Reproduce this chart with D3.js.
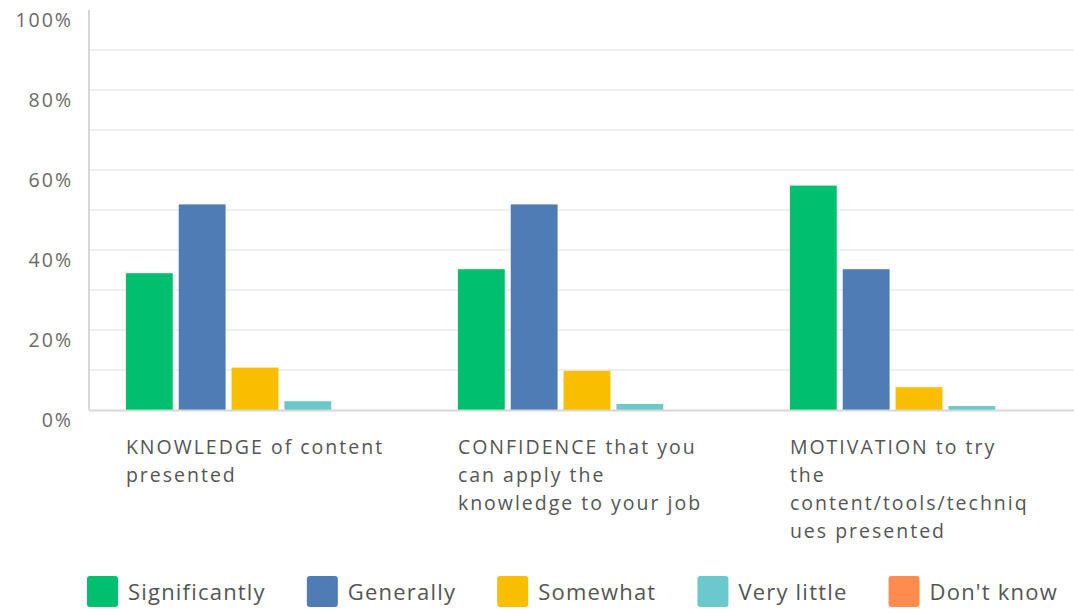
<!DOCTYPE html>
<html>
<head>
<meta charset="utf-8">
<script src="https://cdn.jsdelivr.net/npm/d3@7.9.0/dist/d3.min.js"></script>
<style>
  body { margin: 0; background: #fff; }
  text { font-family: "Open Sans", "Noto Sans", sans-serif; }
</style>
</head>
<body>
<svg id="chart" width="1074" height="609"></svg>
<script>
// categories (wrapped lines as shown)
const categories = ["knowledge", "confidence", "motivation"];
const categoryLines = [
    ["KNOWLEDGE of content", "presented"],
    ["CONFIDENCE that you", "can apply the", "knowledge to your job"],
    ["MOTIVATION to try", "the", "content/tools/techniq", "ues presented"]
];
const seriesNames = ["Significantly", "Generally", "Somewhat", "Very little", "Don't know"];
const seriesColors = ["#00bf6f", "#507cb6", "#f9be00", "#6bc8cd", "#ff8b4f"];

// percent values per series, one per category
const significantly = [34.2, 35.2, 56.1];
const generally     = [51.4, 51.4, 35.2];
const somewhat      = [10.6, 9.8, 5.7];
const veryLittle    = [2.2, 1.5, 1.0];
const dontKnow      = [0, 0, 0];

const yTicks = [0, 20, 40, 60, 80, 100];
const gridValues = [10, 20, 30, 40, 50, 60, 70, 80, 90];

const allSeries = [significantly, generally, somewhat, veryLittle, dontKnow];

const svg = d3.select("#chart");

const plotLeft = 89, plotRight = 1085, plotTop = 10, plotBottom = 410;

const x0 = d3.scaleBand()
    .domain(categories)
    .range([plotLeft, plotRight])
    .paddingInner(0.2)
    .paddingOuter(0.1);

const x1 = d3.scaleBand()
    .domain(seriesNames)
    .range([0, x0.bandwidth()])
    .paddingInner(0.113)
    .paddingOuter(0.07);

const y = d3.scaleLinear()
    .domain([0, 100])
    .range([plotBottom, plotTop]);

// gridlines
svg.append("g")
    .selectAll("line")
    .data(gridValues)
    .join("line")
    .attr("x1", plotLeft)
    .attr("x2", 1074)
    .attr("y1", d => y(d))
    .attr("y2", d => y(d))
    .attr("stroke", "#ebebeb")
    .attr("stroke-width", 1.5);

// y axis line
svg.append("line")
    .attr("x1", plotLeft).attr("x2", plotLeft)
    .attr("y1", plotTop).attr("y2", plotBottom)
    .attr("stroke", "#d6d6d6")
    .attr("stroke-width", 2);

// y tick labels (sit a bit below their gridline)
svg.append("g")
    .selectAll("text")
    .data(yTicks)
    .join("text")
    .attr("x", 73)
    .attr("y", d => y(d) + 10)
    .attr("dy", "0.35em")
    .attr("text-anchor", "end")
    .style("font-size", "19.5px")
    .style("letter-spacing", "2px")
    .style("fill", "#6a6a6a")
    .text(d => d + "%");

// bars
const groups = svg.append("g")
    .selectAll("g")
    .data(categories)
    .join("g")
    .attr("transform", d => `translate(${x0(d)},0)`);

groups.selectAll("rect")
    .data((d, i) => seriesNames.map((s, j) => ({ s, j, v: allSeries[j][i] })))
    .join("rect")
    .attr("x", d => x1(d.s))
    .attr("width", x1.bandwidth())
    .attr("y", d => y(d.v))
    .attr("height", d => y(0) - y(d.v))
    .attr("fill", d => seriesColors[d.j]);

// baseline
svg.append("line")
    .attr("x1", plotLeft).attr("x2", 1074)
    .attr("y1", plotBottom + 0.5).attr("y2", plotBottom + 0.5)
    .attr("stroke", "#d6d6d6")
    .attr("stroke-width", 2);

// category labels
svg.append("g")
    .selectAll("text")
    .data(categories)
    .join("text")
    .attr("x", d => x0(d) + x1(seriesNames[0]))
    .attr("y", 447)
    .style("font-size", "19.5px")
    .style("letter-spacing", "2px")
    .style("fill", "#555")
    .each(function(d, i) {
        d3.select(this).selectAll("tspan")
            .data(categoryLines[i])
            .join("tspan")
            .attr("x", x0(d) + x1(seriesNames[0]))
            .attr("dy", (t, k) => k === 0 ? "0.35em" : "28px")
            .text(t => t);
    });

// legend
const legend = svg.append("g");
let lx = 87;
seriesNames.forEach((name, i) => {
    const g = legend.append("g").attr("transform", `translate(${lx},576)`);
    g.append("rect")
        .attr("width", 31)
        .attr("height", 31)
        .attr("rx", 3)
        .attr("fill", seriesColors[i]);
    const t = g.append("text")
        .attr("x", 41)
        .attr("y", 16)
        .attr("dy", "0.35em")
        .style("font-size", "22px")
        .style("letter-spacing", "1.2px")
        .style("fill", "#555")
        .text(name);
    lx += 41 + t.node().getComputedTextLength() + 41;
});
</script>
</body>
</html>
